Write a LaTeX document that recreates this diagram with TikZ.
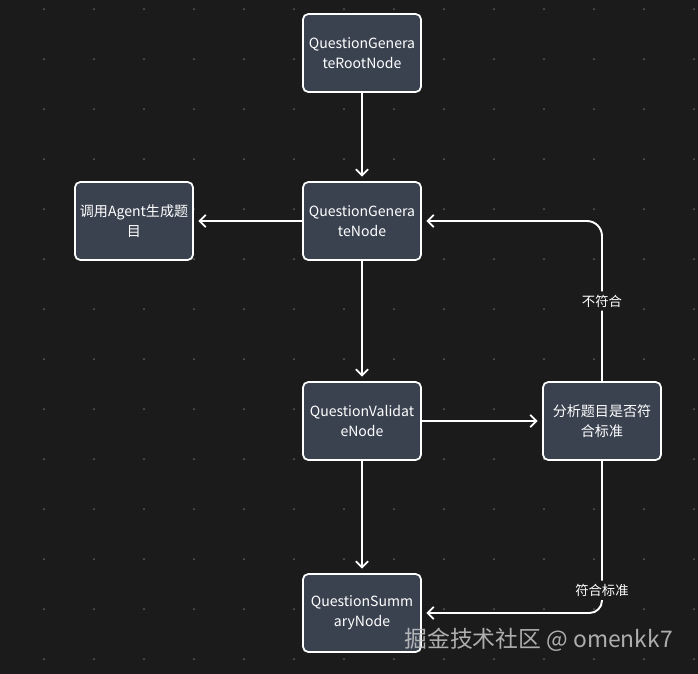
\documentclass[tikz,border=0pt]{standalone}
\usepackage{fontspec}
\setmainfont{Noto Sans CJK SC}
\usetikzlibrary{arrows.meta}
\definecolor{canvas}{RGB}{27,27,28}
\definecolor{boxfill}{RGB}{58,66,80}
\definecolor{griddot}{RGB}{95,95,95}
\definecolor{mark}{RGB}{200,200,200}
\begin{document}
\begin{tikzpicture}[x=0.02cm,y=-0.02cm,
    stepbox/.style={draw=white,line width=1pt,fill=boxfill,rounded corners=3pt,
      minimum width=2.36cm,minimum height=1.56cm,text=white,align=center,
      font=\fontsize{8}{11.4}\selectfont,inner sep=1pt},
    flow/.style={draw=white,line width=1.1pt,shorten >=2.5pt,
      -{Straight Barb[length=3.5pt,width=7pt,line width=1.1pt]}},
    tag/.style={fill=canvas,text=white,font=\fontsize{7.6}{9}\selectfont,inner sep=2pt}]
      \fill[canvas] (0,0) rectangle (698,674);
      \foreach \x in {44,94,...,694}
        \foreach \y in {9,59,...,659}
          \fill[griddot] (\x,\y) circle (1);
      \node[stepbox] (root) at (362,53) {QuestionGenera\\teRootNode};
      \node[stepbox] (gen) at (362,221) {QuestionGenera\\teNode};
      \node[stepbox] (agent) at (134,221) {调用Agent生成题\\目};
      \node[stepbox] (val) at (362,421) {QuestionValidat\\eNode};
      \node[stepbox] (check) at (602,421) {分析题目是否符\\合标准};
      \node[stepbox] (sum) at (362,613) {QuestionSumm\\aryNode};
      \draw[flow] (root) -- (gen);
      \draw[flow] (gen) -- (agent);
      \draw[flow] (gen) -- (val);
      \draw[flow] (val) -- (check);
      \draw[flow] (val) -- (sum);
      \draw[flow,rounded corners=0.3cm] (check.north) |- node[tag,pos=0.25] {不符合} (gen.east);
      \draw[flow,rounded corners=0.25cm] (check.south) |- node[tag,pos=0.425] {符合标准} (sum.east);
      \node[text=mark,opacity=0.85,font=\fontsize{13}{15}\selectfont,anchor=east] (wm) at (679,640) {掘金技术社区 @ omenkk7};
\end{tikzpicture}
\end{document}
